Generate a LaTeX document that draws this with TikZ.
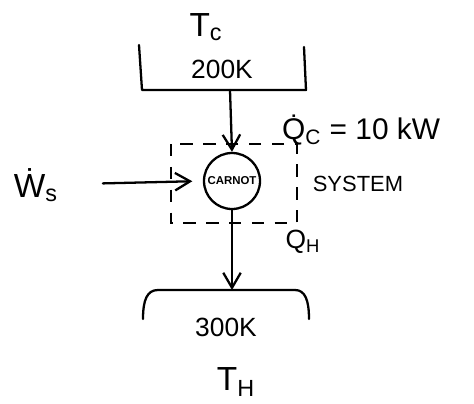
\documentclass[tikz,border=0pt]{standalone}
\usepackage{fontspec}
\setmainfont{Liberation Sans}
\usetikzlibrary{arrows.meta}

\begin{document}
\begin{tikzpicture}[x=0.02cm, y=-0.02cm,
  hand/.style={line width=1.3pt, line cap=round, line join=round},
  flow/.style={hand, -{Straight Barb[length=3mm, width=3.5mm]}},
  sysbox/.style={line width=1.1pt, dash pattern=on 7pt off 6pt},
  big/.style={font=\fontsize{19}{21}\selectfont},
  mid/.style={font=\fontsize{15}{17}\selectfont},
  small/.style={font=\fontsize{12.5}{14}\selectfont}
]
  \useasboundingbox (0,0) rectangle (474,403);
  % Cold reservoir
  \draw[hand] (139,45) -- (142,90) -- (306,90) -- (304,47);
  \node[big] (tc) at (206,27) {T\textsubscript{c}};
  \node[mid] (cold) at (222,69) {200K};
  \coordinate (coldout) at (230,90);
  % Engine and system boundary
  \node[circle, draw, hand, minimum size=1.12cm, inner sep=0pt, font=\fontsize{6.5}{7}\selectfont\bfseries] (engine) at (232,181) {CARNOT};
  \draw[sysbox] (171,144) rectangle (297,223);
  \node[small] (sys) at (358,184) {SYSTEM};
  % Heat and work flows
  \draw[flow] (coldout) -- (engine.north);
  \node[font=\fontsize{17}{19}\selectfont, anchor=west] (qc) at (276,130) {\.{Q}\textsubscript{C} = 10 kW};
  \node[big] (ws) at (36,185) {\.{W}\textsubscript{s}};
  \draw[flow, shorten <=22pt, shorten >=6pt] (ws) -- (engine.west);
  \node[mid] (qh) at (303,242) {Q\textsubscript{H}};
  \coordinate (hotin) at (232,290);
  \draw[flow] (engine.south) -- (hotin);
  % Hot reservoir
  \draw[hand] (143,319) .. controls (143,300) and (147,290) .. (158,290) -- (295,290) .. controls (305,290) and (309,300) .. (309,319);
  \node[mid] (hot) at (226,327) {300K};
  \node[big] (th) at (236,382) {T\textsubscript{H}};
\end{tikzpicture}
\end{document}
